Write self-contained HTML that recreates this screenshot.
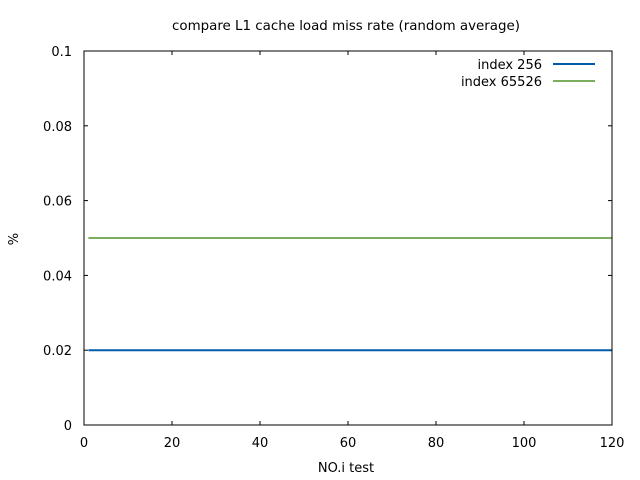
<!DOCTYPE html>
<html><head><meta charset="utf-8"><style>
body{margin:0;background:#fff}
svg{display:block;font-family:"DejaVu Sans","Liberation Sans",sans-serif;font-size:13px}
</style></head><body>
<svg id="chart" width="640" height="480">
<rect width="640" height="480" fill="#fff"/>
<text x="346" y="30" text-anchor="middle" style="font-size:13.4px">compare L1 cache load miss rate (random average)</text>
<text x="346" y="472" text-anchor="middle">NO.i test</text>
<text x="18" y="239" text-anchor="middle" transform="rotate(-90 18 239)">%</text>
<g id="ticks"></g>
<g id="series"></g>
<rect x="84" y="51" width="528" height="374" fill="none" stroke="#000" stroke-width="1"/>
<g>
<text x="542" y="69" text-anchor="end">index 256</text>
<line x1="553" y1="64" x2="595" y2="64" stroke="#005bab" stroke-width="2"/>
<text x="542" y="86" text-anchor="end">index 65526</text>
<line x1="553" y1="81" x2="595" y2="81" stroke="#7cad5c" stroke-width="2"/>
</g>
</svg>
<script>
const xTicks=[0,20,40,60,80,100,120];
const yTicks=[0,0.02,0.04,0.06,0.08,0.1];
const yTickLabels=["0","0.02","0.04","0.06","0.08","0.1"];
const seriesNames=["index 256","index 65526"];
const xRange=[1,120];
const series256=[0.02,0.02];
const series65526=[0.05,0.05];
const X=v=>84+(v-0)/120*528;
const Y=v=>425-(v/0.1)*374;
const NS="http://www.w3.org/2000/svg";
const tg=document.getElementById('ticks');
function mk(tag,attrs,parent){const e=document.createElementNS(NS,tag);for(const k in attrs)e.setAttribute(k,attrs[k]);parent.appendChild(e);return e;}
xTicks.forEach(t=>{
 const x=X(t);
 const a=mk('line',{x1:x,y1:425,x2:x,y2:421,stroke:'#000'},tg);
 
 
 const b=mk('line',{x1:x,y1:51,x2:x,y2:55,stroke:'#000'},tg);
 
 
 const l=mk('text',{x:x,y:447,'text-anchor':'middle'},tg);l.textContent=t;
 
 
});
yTicks.forEach((t,i)=>{
 const y=Y(t);
 const a=mk('line',{x1:84,y1:y,x2:88,y2:y,stroke:'#000'},tg);
 
 
 const b=mk('line',{x1:612,y1:y,x2:608,y2:y,stroke:'#000'},tg);
 
 
 const l=mk('text',{x:72,y:y+5,'text-anchor':'end'},tg);l.textContent=yTickLabels[i];
 
 
});
const sg=document.getElementById('series');
[[series256,'#005bab','line-index-256'],[series65526,'#7cad5c','line-index-65526']].forEach(([s,c,n])=>{
 const pts=s.map((v,i)=>X(xRange[i])+','+Y(v)).join(' ');
 const p=mk('polyline',{points:pts,fill:'none',stroke:c,'stroke-width':2},sg);
 
 
});
</script>
</body></html>
